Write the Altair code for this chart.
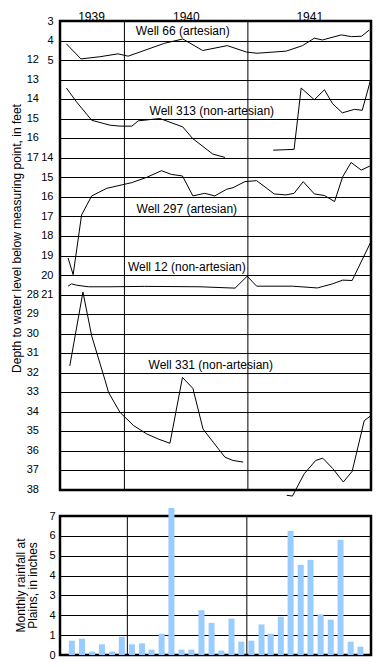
import json
import altair as alt
import pandas as pd

FONT = "Liberation Sans"

# ---------------- well hydrograph data (depth in feet) ----------------
w66_dates = ["1939-07-13", "1939-08-25", "1939-10-20", "1939-12-13", "1940-01-12",
             "1940-04-29", "1940-06-22", "1940-08-20", "1940-11-01", "1940-12-28",
             "1941-01-28", "1941-04-25", "1941-06-12", "1941-07-17", "1941-08-10",
             "1941-10-05", "1941-11-04", "1941-12-04", "1941-12-27"]
w66_depth = [4.17, 4.94, 4.83, 4.68, 4.80, 4.14, 3.92, 4.51, 4.26, 4.59,
             4.65, 4.54, 4.26, 3.88, 3.97, 3.71, 3.80, 3.78, 3.46]

w313a_dates = ["1939-07-13", "1939-08-12", "1939-09-26", "1939-11-19", "1939-12-19",
               "1940-01-23", "1940-02-11", "1940-04-15", "1940-06-22", "1940-07-21",
               "1940-09-19", "1940-10-25"]
w313a_depth = [13.43, 14.14, 15.08, 15.33, 15.38, 15.38, 15.11, 14.99, 15.42, 16.01,
               16.81, 16.98]
w313b_dates = ["1941-03-17", "1941-05-18", "1941-06-08", "1941-07-17", "1941-08-16",
               "1941-09-09", "1941-10-08", "1941-11-13", "1941-12-06", "1941-12-30"]
w313b_depth = [16.61, 16.57, 13.43, 14.03, 13.52, 14.23, 14.70, 14.52, 14.57, 13.07]

w297_dates = ["1939-07-18", "1939-08-02", "1939-08-27", "1939-09-26", "1939-11-10",
              "1940-01-23", "1940-03-07", "1940-04-20", "1940-05-19", "1940-06-21",
              "1940-07-22", "1940-08-26", "1940-09-25", "1940-10-30", "1940-11-18",
              "1940-12-23", "1941-01-27", "1941-03-20", "1941-04-24", "1941-05-18",
              "1941-06-14", "1941-07-17", "1941-08-16", "1941-09-15", "1941-10-09",
              "1941-11-03", "1941-12-03", "1941-12-29"]
w297_depth = [19.13, 19.98, 16.92, 15.95, 15.56, 15.27, 15.00, 14.66, 14.85, 14.93,
              15.95, 15.82, 15.95, 15.61, 15.53, 15.22, 15.17, 15.85, 15.90, 15.82,
              15.22, 15.85, 15.93, 16.24, 14.97, 14.24, 14.63, 14.42]

w12_dates = ["1939-07-18", "1939-07-28", "1939-08-12", "1939-09-16", "1939-11-19",
             "1940-03-01", "1940-08-12", "1940-11-24", "1940-12-30", "1941-01-27",
             "1941-05-13", "1941-07-26", "1941-09-09", "1941-10-09", "1941-11-06",
             "1941-12-30"]
w12_depth = [20.57, 20.45, 20.52, 20.60, 20.60, 20.58, 20.60, 20.67, 20.06, 20.57,
             20.57, 20.66, 20.45, 20.26, 20.28, 18.36]

w331a_dates = ["1939-07-23", "1939-08-31", "1939-09-26", "1939-11-05", "1939-11-15",
               "1939-12-19", "1940-01-28", "1940-03-07", "1940-04-10", "1940-05-15",
               "1940-06-21", "1940-07-22", "1940-08-21", "1940-09-20", "1940-10-25",
               "1940-11-18", "1940-12-18"]
w331a_depth = [31.65, 27.87, 30.12, 32.41, 33.01, 34.03, 34.70, 35.13, 35.39, 35.61,
               32.24, 32.80, 34.88, 35.55, 36.32, 36.49, 36.57]
w331b_dates = ["1941-04-26", "1941-05-13", "1941-06-17", "1941-07-21", "1941-08-11",
               "1941-09-10", "1941-10-11", "1941-11-06", "1941-12-12", "1942-01-01"]
w331b_depth = [38.27, 38.31, 37.17, 36.49, 36.37, 36.91, 37.59, 37.05, 34.45, 34.19]

# row offset of each well on the stacked depth axis
well_series = [
    ("Well 66", "a", 3, w66_dates, w66_depth),
    ("Well 313", "a", 10, w313a_dates, w313a_depth),
    ("Well 313", "b", 10, w313b_dates, w313b_depth),
    ("Well 297", "a", 7, w297_dates, w297_depth),
    ("Well 12", "a", 7, w12_dates, w12_depth),
    ("Well 331", "a", 14, w331a_dates, w331a_depth),
    ("Well 331", "b", 14, w331b_dates, w331b_depth),
]

# stacked y-axis labels: right column (wells 66, 297, 12) and left column (wells 313, 331)
right_labels = ["3", "4", "5", "", "", "", "", "14", "15", "16", "17", "18",
                "19", "20", "21", "", "", "", "", "", "", "", "", "", ""]
left_labels = ["12", "13", "14", "15", "16", "17",
               "28", "29", "30", "31", "32", "33", "34", "35", "36", "37", "38"]
left_rows = [2, 3, 4, 5, 6, 7, 14, 15, 16, 17, 18, 19, 20, 21, 22, 23, 24]

ann_text = ["Well 66 (artesian)", "Well 313 (non-artesian)", "Well 297 (artesian)",
            "Well 12 (non-artesian)", "Well 331 (non-artesian)"]
ann_date = ["1940-06-22", "1940-09-16", "1940-07-04", "1940-07-04", "1940-09-13"]
ann_row = [0.51, 4.59, 9.6, 12.61, 17.58]

year_bounds = ["1940-01-01", "1941-01-01"]

# ---------------- rainfall ----------------
rain_months = ["1939-07-15", "1939-08-15", "1939-09-15", "1939-10-15", "1939-11-15", "1939-12-15",
               "1940-01-15", "1940-02-15", "1940-03-15", "1940-04-15", "1940-05-15", "1940-06-15",
               "1940-07-15", "1940-08-15", "1940-09-15", "1940-10-15", "1940-11-15", "1940-12-15",
               "1941-01-15", "1941-02-15", "1941-03-15", "1941-04-15", "1941-05-15", "1941-06-15",
               "1941-07-15", "1941-08-15", "1941-09-15", "1941-10-15", "1941-11-15", "1941-12-15"]
rain_inches = [0.72, 0.82, 0.17, 0.54, 0.17, 0.92,
               0.54, 0.59, 0.27, 1.07, 7.40, 0.27, 0.27, 2.26, 1.62, 0.22, 1.83, 0.67,
               0.72, 1.54, 1.07, 1.93, 6.25, 4.54, 4.79, 2.04, 1.78, 5.80, 0.67, 0.42]
rain_tick_labels = ["0", "1", "4", "3", "4", "5", "6", "7"]

# ---------------- build tables ----------------
rows = []
for well, seg, off, dates, depths in well_series:
    for d, v in zip(dates, depths):
        rows.append({"well": well, "seg": well + seg, "date": d, "depth": v, "row": v - off})
wells_df = pd.DataFrame(rows)

ann_df = pd.DataFrame({"text": ann_text, "date": ann_date, "row": ann_row})
left_df = pd.DataFrame({"label": left_labels, "row": left_rows})
bounds_df = pd.DataFrame({"date": year_bounds})
rain_df = pd.DataFrame({"date": rain_months, "rain": rain_inches})

x_domain = ["1939-06-24", "1942-01-01"]
W = 311
TOP_H = 469

x_top = alt.X(
    "date:T",
    scale=alt.Scale(domain=x_domain, nice=False),
    axis=alt.Axis(
        orient="top", title=None, format="%Y", grid=False, ticks=False, domain=False,
        values=[alt.DateTime(year=1939, month=9, date=24),
                alt.DateTime(year=1940, month=7, date=1),
                alt.DateTime(year=1941, month=7, date=2)],
        labelFontSize=12, labelPadding=1, labelBaseline="alphabetic",
        labelColor="black", labelFont=FONT,
    ),
)
y_scale = alt.Scale(domain=[0, 24], reverse=True, nice=False, zero=False)
y_top = alt.Y(
    "row:Q",
    scale=y_scale,
    axis=alt.Axis(
        values=list(range(25)), labelExpr=json.dumps(right_labels) + "[datum.value]",
        grid=True, gridColor="black", gridWidth=1, gridOpacity=1, ticks=False,
        domain=False, labelPadding=7, labelFontSize=11, labelColor="black",
        labelFont=FONT,
        title="Depth to water level below measuring point, in feet",
        titleFontSize=12, titleFontWeight="normal", titleColor="black", titleFont=FONT,
        titleX=-44, titleY=217, titleBaseline="middle",
    ),
)

lines = alt.Chart(wells_df).mark_line(color="black", strokeWidth=1).encode(
    x=x_top, y=y_top, detail="seg:N"
)
rules_top = alt.Chart(bounds_df).mark_rule(color="black", strokeWidth=1).encode(x=x_top)
labels = alt.Chart(ann_df).mark_text(
    fontSize=12, font=FONT, color="black", align="center", baseline="middle"
).encode(x=x_top, y=y_top, text="text:N")
left_col = alt.Chart(left_df).mark_text(
    fontSize=11, font=FONT, color="black", align="right", baseline="middle"
).encode(x=alt.value(-21), y=y_top, text="label:N")

top = alt.layer(rules_top, lines, labels, left_col).properties(width=W, height=TOP_H)

x_bot = alt.X("date:T", scale=alt.Scale(domain=x_domain, nice=False), axis=None)
bars = alt.Chart(rain_df).mark_bar(color="#99CCFF", size=6).encode(
    x=x_bot,
    y=alt.Y(
        "rain:Q",
        scale=alt.Scale(domain=[0, 7], nice=False),
        axis=alt.Axis(
            values=list(range(8)), labelExpr=json.dumps(rain_tick_labels) + "[datum.value]",
            grid=True, gridColor="black", gridWidth=1, gridOpacity=1, ticks=False,
            domain=False, labelPadding=5, labelFontSize=11, labelColor="black",
            labelFont=FONT, title=["Monthly rainfall at", "Plains, in inches"],
            titleFontSize=12, titleFontWeight="normal", titleColor="black",
            titleFont=FONT, titleLineHeight=12, titleX=-40, titleY=69,
            titleBaseline="middle",
        ),
    ),
)
rules_bot = alt.Chart(bounds_df).mark_rule(color="black", strokeWidth=1).encode(x=x_bot)
bottom = alt.layer(bars, rules_bot).properties(width=W, height=139)

chart = (
    alt.vconcat(top, bottom, spacing=26, bounds="flush")
    .properties(padding=0)
    .configure(font=FONT)
    .configure_view(stroke="black", strokeWidth=2.5)
)

chart.save("out.html", embed_options={"renderer": "svg", "actions": False})
